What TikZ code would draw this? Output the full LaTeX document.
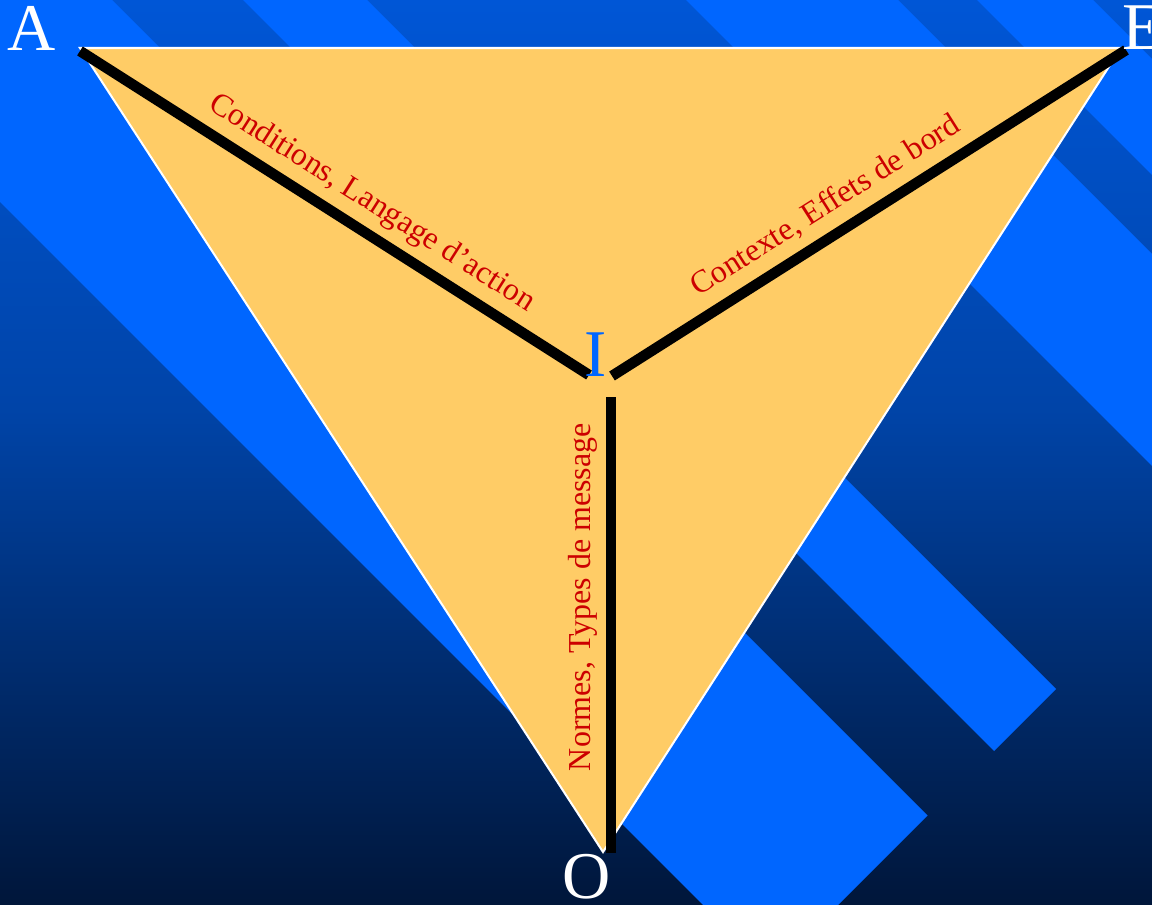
\documentclass[tikz,border=0pt]{standalone}
\usepackage{fontspec}
\setmainfont{Liberation Serif}
\usepackage{xcolor}
\usepackage{tikz}
\usetikzlibrary{calc}

\definecolor{bgTop}{RGB}{0,86,214}
\definecolor{bgMid}{RGB}{0,68,168}
\definecolor{bgBot}{RGB}{0,22,58}
\definecolor{stripe}{RGB}{0,102,255}
\definecolor{sand}{RGB}{255,204,102}
\definecolor{labred}{RGB}{204,0,0}

% path box spans 25bp..75bp of the shading
\pgfdeclareverticalshading{bgfade}{100bp}{color(0bp)=(bgBot); color(25bp)=(bgBot); color(52.5bp)=(bgMid); color(75bp)=(bgTop); color(100bp)=(bgTop)}

\begin{document}
\begin{tikzpicture}[
    x=0.02cm, y=-0.02cm,
    band/.style={fill=stripe},
    tri/.style={fill=sand, draw=white, line width=1.15pt},
    axe/.style={line width=6pt},
    vertex/.style={text=white, font=\fontsize{38}{40}\selectfont, inner sep=0pt, anchor=base},
    axelab/.style={text=labred, font=\fontsize{18.2}{20}\selectfont, inner sep=0pt, sloped, anchor=base, yshift=0.41cm},
]
\useasboundingbox (0,0) rectangle (1152,905);
\clip (0,0) rectangle (1152,905);

% Background and diagonal stripes
\shade[shading=bgfade] (0,0) rectangle (1152,905);
\fill[band] (0,0) -- (112,0) -- (927.5,815.5) -- (770.5,972.5) -- (0,202) -- cycle;
\fill[band] (243,0) -- (367,0) -- (1056,689) -- (994,751) -- cycle;
\fill[band] (686,0) -- (898,0) -- (1152,254) -- (1152,466) -- cycle;
\fill[band] (977,0) -- (1093,0) -- (1152,59) -- (1152,175) -- cycle;

% Triangle
\coordinate (tA) at (80,48);
\coordinate (tE) at (1121,48);
\coordinate (tO) at (603,852);
\filldraw[tri] (tA) -- (tE) -- (tO) -- cycle;

% Axes towards I
\coordinate (axA) at (80,51);
\coordinate (axAI) at (589,375);
\coordinate (axE) at (1126,50);
\coordinate (axEI) at (612,376);
\coordinate (axO) at (611,853);
\coordinate (axOI) at (611,397);

\draw[axe] (axA) -- (axAI) node[axelab, pos=0.544] (labCond) {Conditions, Langage d’action};
\draw[axe] (axEI) -- (axE) node[axelab, pos=0.446] (labCtx) {Contexte, Effets de bord};
\draw[axe] (axO) -- (axOI) node[axelab, pos=0.561] (labNorm) {Normes, Types de message};

% Vertices
\node[vertex] (vA) at (32,51) {A};
\node[vertex] (vE) at (1143,50) {E};
\node[vertex, text=stripe] (vI) at (596,377) {I};
\node[vertex] (vO) at (587,898) {O};
\end{tikzpicture}
\end{document}
